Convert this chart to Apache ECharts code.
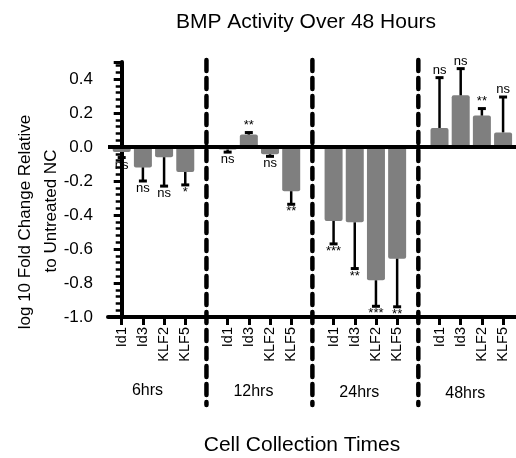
<!DOCTYPE html>
<html>
<head>
<meta charset="utf-8">
<script src="https://cdn.jsdelivr.net/npm/echarts@6/dist/echarts.min.js"></script>
<style>
  html, body { margin: 0; padding: 0; background: #fff; }
  #main { width: 516px; height: 458px; }
</style>
</head>
<body>
<div id="main"></div>
<script>
// data
var genes = ['Id1', 'Id3', 'KLF2', 'KLF5'];
var times = ['6hrs', '12hrs', '24hrs', '48hrs'];
var means = [-0.03, -0.12, -0.06, -0.147,
             -0.015, 0.073, -0.043, -0.26,
             -0.435, -0.443, -0.784, -0.657,
             0.112, 0.304, 0.185, 0.086];
var sems = [0.032, 0.08, 0.17, 0.076,
            0.015, 0.012, 0.012, 0.077,
            0.135, 0.272, 0.153, 0.283,
            0.296, 0.157, 0.041, 0.208];
var sigs = ['ns', 'ns', 'ns', '*',
            'ns', '**', 'ns', '**',
            '***', '**', '***', '**',
            'ns', 'ns', '**', 'ns'];

var FONT = '"Liberation Sans", Arial, sans-serif';

// each time group takes 4 slots, plus one empty slot between groups
function slot(k) { return Math.floor(k / 4) * 5 + k % 4; }
var tickPos = means.map(function (m, k) { return slot(k); });
var barData = means.map(function (m, k) { return [slot(k), m]; });
var errData = means.map(function (m, k) { return [slot(k), m, sems[k]]; });

var chart = echarts.init(document.getElementById('main'));

chart.setOption({
    animation: false,
    title: {
        text: 'BMP Activity Over 48 Hours',
        left: 301,
        top: 7,
        textAlign: 'center',
        textStyle: { fontFamily: FONT, fontSize: 21, fontWeight: 'normal', color: '#000' }
    },
    grid: { left: 108, right: 0, top: 62, bottom: 141 },
    xAxis: {
        type: 'value',
        min: -0.647,
        max: 18.61,
        splitLine: { show: false },
        axisLine: { onZero: false, lineStyle: { color: '#000', width: 4 } },
        axisTick: { customValues: tickPos, length: 8, lineStyle: { color: '#000', width: 3 } },
        axisLabel: {
            customValues: tickPos,
            rotate: 90,
            margin: 10,
            fontFamily: FONT,
            fontSize: 14.5,
            color: '#000',
            formatter: function (v) { return genes[Math.round(v) % 5]; }
        }
    },
    yAxis: {
        type: 'value',
        min: -1,
        max: 0.5,
        interval: 0.2,
        splitLine: { show: false },
        axisLine: { show: true, lineStyle: { color: '#000', width: 4 } },
        axisTick: { length: 8, lineStyle: { color: '#000', width: 3 } },
        minorTick: { show: true, splitNumber: 5, length: 6, lineStyle: { color: '#000', width: 2.5 } },
        axisLabel: {
            margin: 15,
            showMaxLabel: false,
            fontFamily: FONT,
            fontSize: 17,
            color: '#000',
            formatter: function (v) { return v.toFixed(1); }
        }
    },
    series: [
        {
            type: 'bar',
            data: barData,
            barWidth: 18,
            itemStyle: { color: '#7f7f7f', borderRadius: 2 },
            markLine: {
                silent: true,
                symbol: 'none',
                label: { show: false },
                lineStyle: { color: '#000', width: 4, type: 'solid' },
                data: [{ yAxis: 0 }]
            }
        },
        {
            type: 'custom',
            data: errData,
            z: 5,
            renderItem: function (params, api) {
                var x = api.value(0), m = api.value(1), e = api.value(2);
                var up = m >= 0;
                var end = up ? m + e : m - e;
                var p0 = api.coord([x, m]);
                var p1 = api.coord([x, end]);
                var cap = 4;
                return {
                    type: 'group',
                    children: [
                        { type: 'line', shape: { x1: p0[0], y1: p0[1], x2: p1[0], y2: p1[1] },
                          style: { stroke: '#000', lineWidth: 2.5 } },
                        { type: 'line', shape: { x1: p1[0] - cap, y1: p1[1], x2: p1[0] + cap, y2: p1[1] },
                          style: { stroke: '#000', lineWidth: 3 } },
                        { type: 'text',
                          style: {
                              text: sigs[params.dataIndex],
                              x: p1[0],
                              y: up ? p1[1] - 1 : p1[1] + 1,
                              align: 'center',
                              verticalAlign: up ? 'bottom' : 'top',
                              font: '13px ' + FONT,
                              fill: '#000'
                          } }
                    ]
                };
            }
        }
    ]
});

// dashed separators, group names and axis titles
var graphics = [];
for (var g = 1; g < times.length; g++) {
    var px = chart.convertToPixel({ xAxisIndex: 0 }, g * 5 - 1);
    graphics.push({
        type: 'line', silent: true, z: 10,
        shape: { x1: px, y1: 60, x2: px, y2: 405 },
        style: { stroke: '#000', lineWidth: 4.5, lineDash: [11, 7], lineCap: 'round' }
    });
}
times.forEach(function (t, g) {
    var cx = chart.convertToPixel({ xAxisIndex: 0 }, g * 5 + 1.5) - 6;
    graphics.push({
        type: 'text', silent: true,
        style: { text: t, x: cx, y: 391 + g, align: 'center', verticalAlign: 'middle',
                 font: '16px ' + FONT, fill: '#000' }
    });
});
graphics.push({
    type: 'text', silent: true,
    style: { text: 'Cell Collection Times', x: 302, y: 445, align: 'center', verticalAlign: 'middle',
             font: '21px ' + FONT, fill: '#000' }
});
graphics.push({
    type: 'text', silent: true, x: 25, y: 222, rotation: Math.PI / 2,
    style: { text: 'log 10 Fold Change Relative', align: 'center', verticalAlign: 'middle',
             font: '17px ' + FONT, fill: '#000' }
});
graphics.push({
    type: 'text', silent: true, x: 51, y: 211, rotation: Math.PI / 2,
    style: { text: 'to Untreated NC', align: 'center', verticalAlign: 'middle',
             font: '17px ' + FONT, fill: '#000' }
});
chart.setOption({ graphic: graphics });
</script>
</body>
</html>
